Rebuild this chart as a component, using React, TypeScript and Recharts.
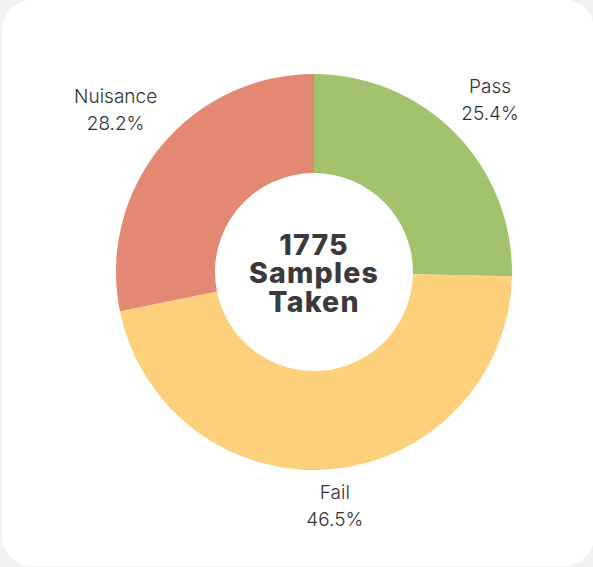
import { PieChart, Pie, Cell } from 'recharts';

const categories = ['Pass', 'Fail', 'Nuisance'];
const sampleCounts = [450, 825, 500];
const sliceColors = ['#a3c26d', '#fdd17b', '#e38873'];
const centerLines = ['1775', 'Samples', 'Taken'];

const data = categories.map((name, i) => ({ name, value: sampleCounts[i] }));

const CX = 314;
const CY = 272;
const RADIAN = Math.PI / 180;
const LABEL_FONT = '300 19px Inter';

let ctx: CanvasRenderingContext2D | null = null;
const textWidth = (s: string) => {
	if (!ctx) ctx = document.createElement('canvas').getContext('2d');
	if (!ctx) return s.length * 10.5;
	ctx.font = LABEL_FONT;
	return ctx.measureText(s).width;
};

const renderLabel = (props: any) => {
	const { cx, cy, midAngle, outerRadius, percent, name } = props;
	const pct = `${(percent * 100).toFixed(1)}%`;
	const w = Math.max(textWidth(name), textWidth(pct));
	const cos = Math.cos(-midAngle * RADIAN);
	const sin = Math.sin(-midAngle * RADIAN);
	const dist = outerRadius + 11 + Math.abs(cos) * (w / 2) + Math.abs(sin) * 24;
	const bx = cx + dist * cos;
	const by = cy + dist * sin;
	return (
		<text
			x={bx}
			y={by}
			textAnchor='middle'
			fill='#333333'
			style={{ fontFamily: 'Inter', fontWeight: 300, fontSize: 19 }}
		>
			<tspan x={bx} y={by - 7}>
				{name}
			</tspan>
			<tspan x={bx} y={by + 20}>
				{pct}
			</tspan>
		</text>
	);
};

export default function App() {
	const offsets = [-17, 11, 40];
	return (
		<div
			style={{
				position: 'fixed',
				left: 0,
				top: 0,
				width: 593,
				height: 567,
				background: '#f2f2f0',
				overflow: 'hidden',
			}}
		>
			<div
				style={{
					position: 'absolute',
					left: 2,
					top: 0,
					width: 592,
					height: 566,
					background: '#ffffff',
					borderRadius: 30,
				}}
			/>
			<div style={{ position: 'absolute', left: 0, top: 0 }}>
				<PieChart width={593} height={567} margin={{ top: 0, right: 0, bottom: 0, left: 0 }}>
					<Pie
						data={data}
						dataKey='value'
						nameKey='name'
						cx={CX}
						cy={CY}
						innerRadius={99}
						outerRadius={198}
						startAngle={90}
						endAngle={-270}
						stroke='none'
						label={renderLabel}
						labelLine={false}
						isAnimationActive={false}
					>
						{data.map((d, i) => (
							<Cell key={d.name} fill={sliceColors[i]} />
						))}
					</Pie>
				</PieChart>
			</div>
			{/* center caption */}
			<svg
				width={593}
				height={567}
				style={{ position: 'absolute', left: 0, top: 0, pointerEvents: 'none' }}
			>
				<text
					textAnchor='middle'
					fill='#3a3a3d'
					style={{ fontFamily: 'Inter', fontWeight: 800, fontSize: 28.5, letterSpacing: 1.2 }}
				>
					{centerLines.map((line, i) => (
						<tspan key={line} x={CX} y={CY + offsets[i]}>
							{line}
						</tspan>
					))}
				</text>
			</svg>
		</div>
	);
}
